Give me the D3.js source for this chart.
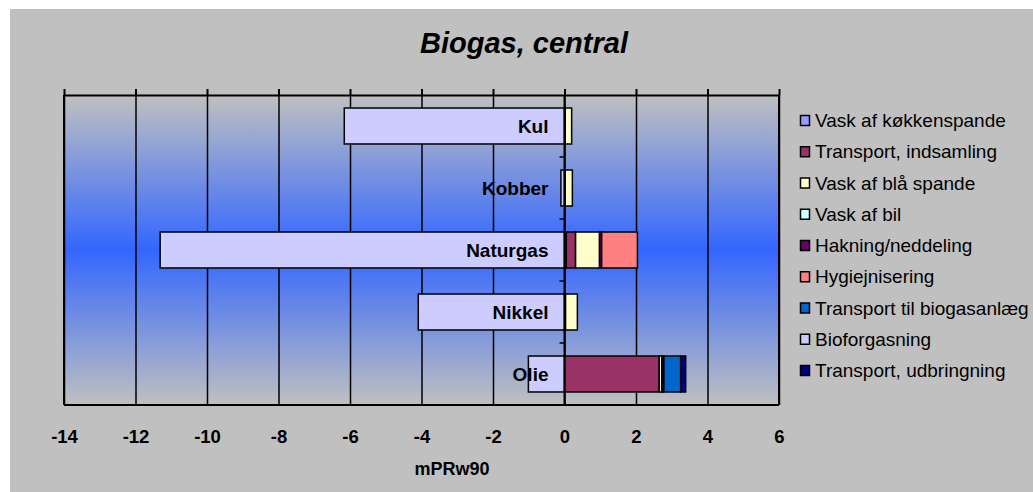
<!DOCTYPE html>
<html>
<head>
<meta charset="utf-8">
<script src="https://cdn.jsdelivr.net/npm/d3@7"></script>
<style>
  html, body { margin: 0; padding: 0; background: #ffffff; }
  svg { display: block; font-family: "Liberation Sans", Arial, sans-serif; }
</style>
</head>
<body>
<svg id="chart" width="1033" height="492"></svg>
<script>
// ---- data ----
const categories = ["Kul", "Kobber", "Naturgas", "Nikkel", "Olie"];
const seriesNames = [
  "Vask af køkkenspande",
  "Transport, indsamling",
  "Vask af blå spande",
  "Vask af bil",
  "Hakning/neddeling",
  "Hygiejnisering",
  "Transport til biogasanlæg",
  "Bioforgasning",
  "Transport, udbringning"
];
const vaskKoekkenspande   = [0,     0,     0.05,   0,     0];
const transportIndsamling = [0.02,  0.02,  0.26,   0.03,  2.65];
const vaskBlaaSpande      = [0.18,  0.20,  0.67,   0.33,  0.07];
const vaskBil             = [0,     0,     0,      0,     0.01];
const hakning             = [0,     0,     0.06,   0,     0.05];
const hygiejnisering      = [0,     0,     1.00,   0,     0];
const transportBiogas     = [0,     0,     0,      0,     0.47];
const bioforgasning       = [-6.16, -0.10, -11.31, -4.09, -1.01];
const transportUdbringning= [0,     0,     0,      0,     0.14];
const xTicks = [-14, -12, -10, -8, -6, -4, -2, 0, 2, 4, 6];
const colors = ["#9999FF", "#993366", "#FFFFCC", "#CCFFFF", "#660066",
                "#FF8080", "#0066CC", "#CCCCFF", "#000080"];

const seriesValues = [vaskKoekkenspande, transportIndsamling, vaskBlaaSpande, vaskBil,
  hakning, hygiejnisering, transportBiogas, bioforgasning, transportUdbringning];

const table = categories.map((c, i) => {
  const row = { cat: c };
  seriesNames.forEach((s, j) => row[s] = seriesValues[j][i]);
  return row;
});

// ---- layout ----
const svg = d3.select("#chart");
const L = 64, R = 779, T = 95, B = 405;

svg.append("rect").attr("x", 10).attr("y", 9).attr("width", 1023).attr("height", 483)
  .attr("fill", "#C0C0C0");

const defs = svg.append("defs");
const grad = defs.append("linearGradient").attr("id", "bg")
  .attr("x1", 0).attr("y1", 0).attr("x2", 0).attr("y2", 1);
grad.append("stop").attr("offset", "0%").attr("stop-color", "#C0C0C0");
grad.append("stop").attr("offset", "50%").attr("stop-color", "#3366FF");
grad.append("stop").attr("offset", "100%").attr("stop-color", "#C0C0C0");

svg.append("rect").attr("x", L).attr("y", T).attr("width", R - L).attr("height", B - T)
  .attr("fill", "url(#bg)");

const x = d3.scaleLinear().domain([-14, 6]).range([L, R]);
const y = d3.scaleBand().domain(categories).range([T, B]).paddingInner(0.42).paddingOuter(0.21);

// gridlines
svg.append("g").attr("transform", `translate(0,${B})`)
  .call(d3.axisBottom(x).tickValues(xTicks).tickSize(B - T).tickFormat(""))
  .call(g => g.select(".domain").remove())
  .call(g => g.selectAll("line").attr("y2", -(B - T)).attr("stroke", "#000").attr("stroke-width", 1.5));

// bars
const stack = d3.stack().keys(seriesNames).offset(d3.stackOffsetDiverging);
const stacked = stack(table);

svg.append("g").selectAll("g").data(stacked).join("g")
  .attr("fill", (d, i) => colors[i])
  .selectAll("rect").data(d => d.filter(p => p[1] !== p[0]))
  .join("rect")
  .attr("x", d => x(Math.min(d[0], d[1])))
  .attr("width", d => Math.abs(x(d[1]) - x(d[0])))
  .attr("y", d => y(d.data.cat))
  .attr("height", y.bandwidth())
  .attr("stroke", "#000")
  .attr("stroke-width", 1.5);

// top axis with ticks
svg.append("g").attr("transform", `translate(0,${T})`)
  .call(d3.axisTop(x).tickValues(xTicks).tickSize(6).tickSizeOuter(0).tickFormat(""))
  .call(g => g.select(".domain").attr("stroke", "#000").attr("stroke-width", 2))
  .call(g => g.selectAll(".tick line").attr("stroke", "#000").attr("stroke-width", 2));

// frame: bottom, left, right
svg.append("line").attr("x1", L).attr("x2", R).attr("y1", B).attr("y2", B)
  .attr("stroke", "#000").attr("stroke-width", 2);
svg.append("line").attr("x1", L).attr("x2", L).attr("y1", T).attr("y2", B)
  .attr("stroke", "#000").attr("stroke-width", 2);
svg.append("line").attr("x1", R).attr("x2", R).attr("y1", T).attr("y2", B)
  .attr("stroke", "#000").attr("stroke-width", 2);

// category axis at zero
const bounds = categories.slice(0, -1).map(c => y(c) + y.bandwidth() + y.step() * y.paddingInner() / 2);
svg.append("line").attr("x1", x(0)).attr("x2", x(0)).attr("y1", T).attr("y2", B)
  .attr("stroke", "#000").attr("stroke-width", 2);
svg.append("g").selectAll("line").data(bounds).join("line")
  .attr("x1", x(0) - 5).attr("x2", x(0)).attr("y1", d => d).attr("y2", d => d)
  .attr("stroke", "#000").attr("stroke-width", 1.5);

// category labels
svg.append("g").selectAll("text").data(categories).join("text")
  .attr("x", x(0) - 16)
  .attr("y", d => y(d) + y.bandwidth() / 2 + 7)
  .attr("text-anchor", "end")
  .attr("font-weight", "bold").attr("font-size", 19)
  .attr("fill", "#000")
  .text(d => d);

// bottom tick labels
svg.append("g").attr("transform", `translate(0,${B})`)
  .call(d3.axisBottom(x).tickValues(xTicks).tickSize(0).tickPadding(0).tickFormat(d => String(d)))
  .call(g => g.select(".domain").remove())
  .call(g => g.selectAll("text").attr("y", 37.5).attr("dy", null)
    .attr("font-size", 18.5).attr("font-weight", "bold").attr("fill", "#000")
    .attr("font-family", "Liberation Sans, Arial, sans-serif"));

// axis title
svg.append("text").attr("x", 452).attr("y", 474.5).attr("text-anchor", "middle")
  .attr("font-weight", "bold").attr("font-size", 18).text("mPRw90");

// chart title
svg.append("text").attr("x", 524).attr("y", 52.5).attr("text-anchor", "middle")
  .attr("font-weight", "bold").attr("font-style", "italic").attr("font-size", 29)
  .text("Biogas, central");

// legend
const lg = svg.append("g").selectAll("g").data(seriesNames).join("g")
  .attr("transform", (d, i) => `translate(800,${120.5 + i * 31.25})`);
lg.append("rect").attr("x", 0.5).attr("y", -5).attr("width", 9).attr("height", 10)
  .attr("fill", (d, i) => colors[i]).attr("stroke", "#000").attr("stroke-width", 1.5);
lg.append("text").attr("x", 15).attr("y", 6.5).attr("font-size", 19).attr("fill", "#000")
  .text(d => d);
</script>
</body>
</html>
